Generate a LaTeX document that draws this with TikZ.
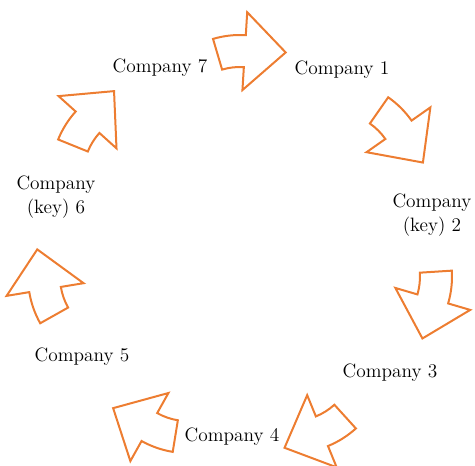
\documentclass[tikz,border=0pt]{standalone}
\usepackage{tikz}
\definecolor{accentorange}{RGB}{237,125,49}

\begin{document}
\begin{tikzpicture}[x=0.75pt, y=0.75pt, company/.style={align=center, font=\fontsize{14.5}{18}\selectfont}, blockarrow/.style={draw=accentorange, line width=1.5pt}]
    \useasboundingbox (0,0) rectangle (475,466);
    % nodes
    \node[company] (c1) at (342,396) {Company 1};
    \node[company] (c2) at (432,251) {Company\\(key) 2};
    \node[company] (c3) at (390,93) {Company 3};
    \node[company] (c4) at (232,29) {Company 4};
    \node[company] (c5) at (82,109) {Company 5};
    \node[company] (c6) at (56,269) {Company\\(key) 6};
    \node[company] (c7) at (160,398) {Company 7};

    % arrows
    \foreach \k in {0,...,6}{
        \begin{scope}[shift={(240,216)}, rotate=-360/7*\k, shift={(0,120)}]
            \draw[blockarrow] (106.5:95) arc[start angle=106.5, end angle=86.5, radius=95] -- (86.5:118) -- (59.5:90) -- (86.5:40) -- (86.5:63) arc[start angle=86.5, end angle=106.5, radius=63] -- cycle;
        \end{scope}
    }
\end{tikzpicture}
\end{document}
